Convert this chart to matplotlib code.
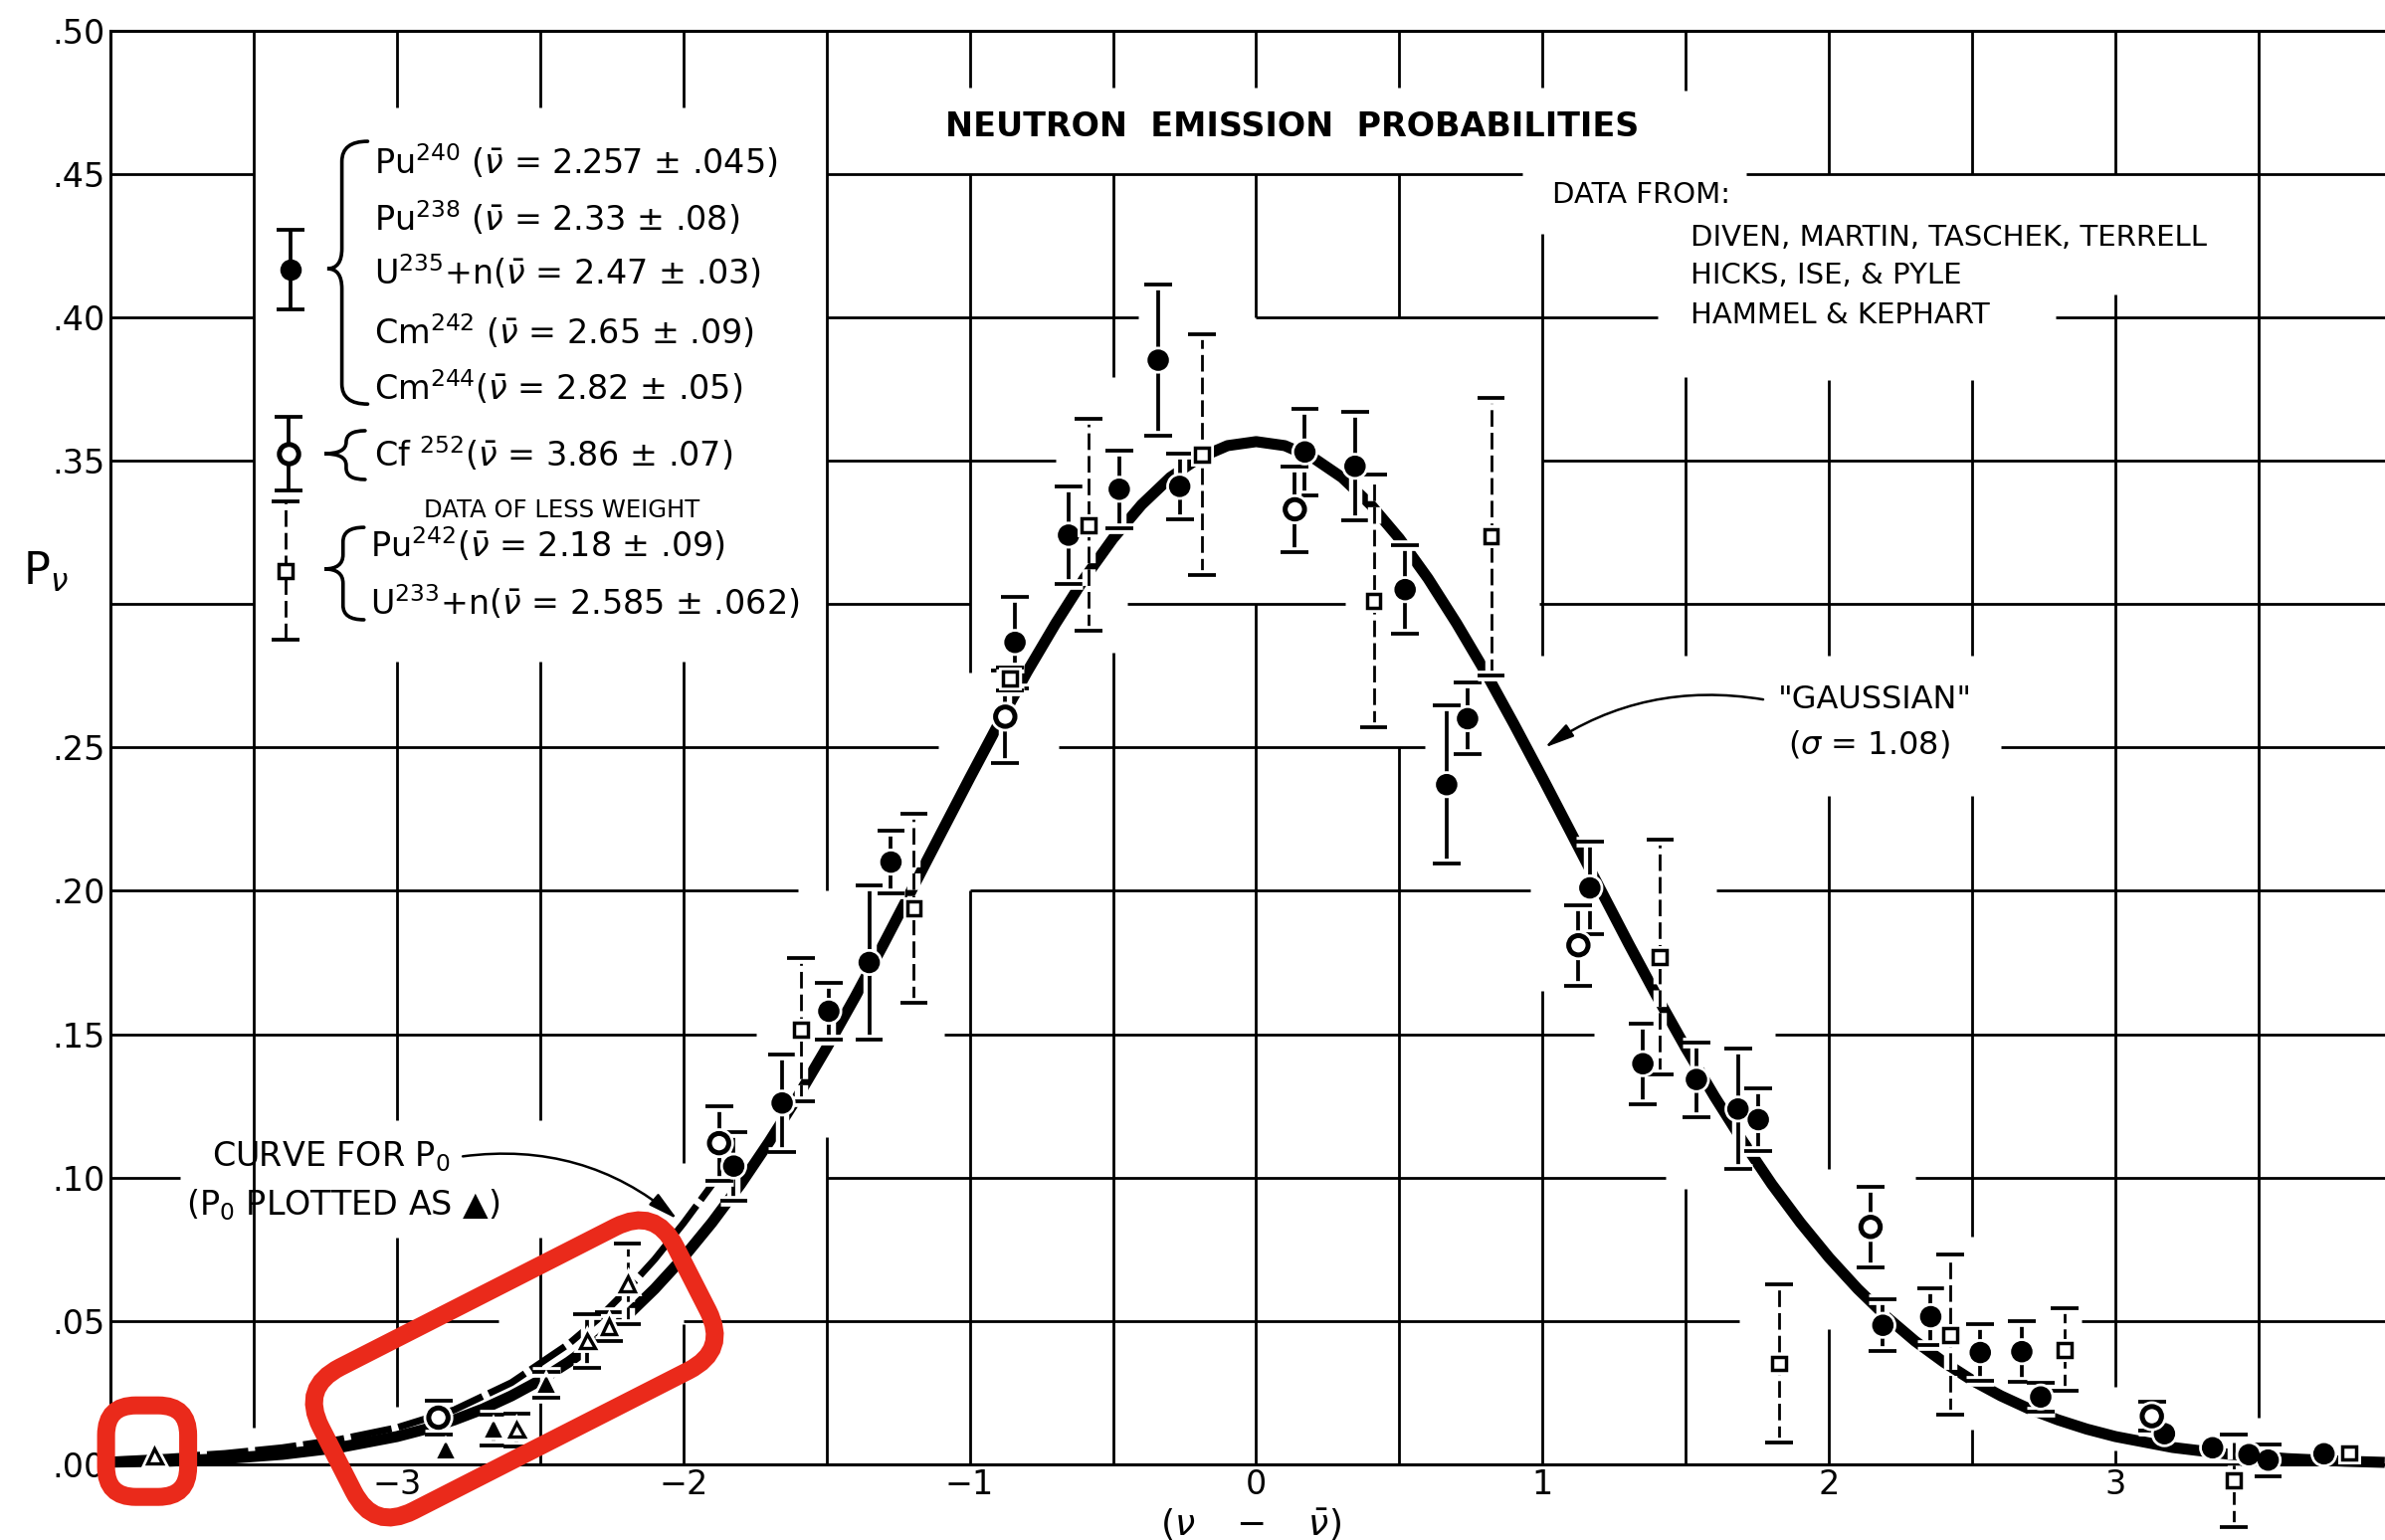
import numpy as np
import matplotlib
matplotlib.use("Agg")
import matplotlib.pyplot as plt
import matplotlib.patheffects as pe
from matplotlib.path import Path
from matplotlib.patches import PathPatch, FancyBboxPatch
from matplotlib.transforms import Affine2D

plt.rcParams['font.family'] = ['DejaVu Sans']
plt.rcParams['mathtext.fontset'] = 'dejavusans'

nan = np.nan

# ---------------- data ----------------
# filled circles: Pu240, Pu238, U235+n, Cm242, Cm244
filled_x = [-1.824, -1.655, -1.492, -1.351, -1.275, -0.842, -0.655, -0.478, -0.342, -0.267,
            0.170, 0.345, 0.520, 0.665, 0.738, 1.165, 1.350, 1.537, 1.682, 1.753,
            2.188, 2.355, 2.528, 2.673, 2.739, 3.171, 3.339, 3.466, 3.533, 3.728]
filled_y = [0.104, 0.126, 0.158, 0.175, 0.210, 0.2866, 0.324, 0.340, 0.385, 0.341,
            0.353, 0.348, 0.305, 0.237, 0.260, 0.201, 0.1397, 0.1342, 0.1239, 0.1202,
            0.0485, 0.0515, 0.039, 0.0393, 0.0235, 0.0107, 0.0058, 0.0034, 0.0015, 0.0037]
filled_err = [0.012, 0.017, 0.010, 0.027, 0.011, 0.016, 0.017, 0.0135, 0.0265, 0.0115,
              0.015, 0.019, 0.0155, 0.0275, 0.0125, 0.016, 0.014, 0.013, 0.021, 0.011,
              0.009, 0.0098, 0.010, 0.0105, 0.005, nan, nan, nan, 0.0055, nan]

# open circles: Cf252
cf_x = [-2.855, -1.875, -0.876, 0.135, 1.125, 2.145, 3.127]
cf_y = [0.0163, 0.112, 0.2607, 0.333, 0.181, 0.0828, 0.0168]
cf_err = [0.006, 0.013, 0.016, 0.015, 0.014, 0.014, 0.005]

# open squares: data of less weight (Pu242, U233+n)
lw_x = [-1.590, -1.195, -0.860, -0.585, -0.190, 0.410, 0.820, 1.410, 1.825, 2.423, 2.822, 3.413, 3.816]
lw_y = [0.1515, 0.1938, 0.274, 0.3275, 0.352, 0.301, 0.3235, 0.177, 0.0352, 0.0452, 0.040, -0.0057, 0.004]
lw_err = [0.025, 0.033, 0.004, 0.037, 0.042, 0.044, 0.0485, 0.041, 0.0276, 0.028, 0.0145, 0.016, nan]

# P0 points (triangles)
p0f_x = [-2.829, -2.662, -2.478]
p0f_y = [0.0048, 0.0121, 0.0278]
p0f_err = [nan, 0.0054, 0.0045]
p0o_x = [-3.846, -2.581, -2.335, -2.260]
p0o_y = [0.0030, 0.0121, 0.0430, 0.0480]
p0o_err = [nan, 0.0057, 0.0094, 0.005]
p0d_x = [-2.195]
p0d_y = [0.063]
p0d_err = [0.014]

# "Gaussian" curve (sigma = 1.08)
gauss_x = [-4.0, -3.8, -3.6, -3.4, -3.2, -3.0, -2.9, -2.8, -2.7, -2.6, -2.5, -2.4, -2.3, -2.2, -2.1,
           -2.0, -1.9, -1.8, -1.7, -1.6, -1.5, -1.4, -1.3, -1.2, -1.1, -1.0, -0.9, -0.8, -0.7,
           -0.6, -0.5, -0.4, -0.3, -0.2, -0.1, 0.0, 0.1, 0.2, 0.3, 0.4, 0.5, 0.6, 0.7, 0.8, 0.9,
           1.0, 1.1, 1.2, 1.3, 1.4, 1.5, 1.6, 1.7, 1.8, 1.9, 2.0, 2.1, 2.2, 2.3, 2.4, 2.5, 2.6,
           2.7, 2.8, 2.9, 3.0, 3.2, 3.4, 3.6, 3.8, 3.94]
gauss_y = [0.0008, 0.0011, 0.0020, 0.0035, 0.0059, 0.0097, 0.0123, 0.0155, 0.0193, 0.0239, 0.0293,
           0.0357, 0.0430, 0.0515, 0.0612, 0.0721, 0.0843, 0.0977, 0.1125, 0.1283, 0.1452, 0.1630,
           0.1816, 0.2008, 0.2201, 0.2393, 0.2581, 0.2763, 0.2932, 0.3089, 0.3228, 0.3346, 0.3441,
           0.3509, 0.3552, 0.3566, 0.3552, 0.3509, 0.3441, 0.3346, 0.3228, 0.3089, 0.2932, 0.2763,
           0.2581, 0.2393, 0.2201, 0.2008, 0.1816, 0.1630, 0.1452, 0.1283, 0.1125, 0.0977, 0.0843,
           0.0721, 0.0612, 0.0515, 0.0430, 0.0357, 0.0293, 0.0239, 0.0193, 0.0155, 0.0123, 0.0097,
           0.0059, 0.0035, 0.0020, 0.0011, 0.0007]

# curve for P0
p0c_x = [-4.0, -3.8, -3.6, -3.4, -3.2, -3.0, -2.8, -2.6, -2.4, -2.3, -2.2, -2.1, -2.0, -1.9, -1.85]
p0c_y = [0.0015, 0.0025, 0.0038, 0.0058, 0.0087, 0.0128, 0.0190, 0.0285, 0.0420, 0.0505, 0.0605,
         0.0715, 0.0840, 0.0975, 0.1045]

x_ticks = [-3, -2, -1, 0, 1, 2, 3]
x_tick_labels = ['\u22123', '\u22122', '\u22121', '0', '1', '2', '3']
y_ticks = [0.0, 0.05, 0.10, 0.15, 0.20, 0.25, 0.30, 0.35, 0.40, 0.45, 0.50]
y_tick_labels = ['.00', '.05', '.10', '.15', '.20', '.25', '', '.35', '.40', '.45', '.50']

# hand-drawn grid with erased gaps (layout)
GRID_V = {
    -3.5: [(0.013, 0.5)],
    -3.0: [(0.02, 0.079), (0.12, 0.28), (0.473, 0.5)],
    -2.5: [(0.0, 0.079), (0.12, 0.28), (0.473, 0.5)],
    -2.0: [(0.0, 0.049), (0.105, 0.28), (0.473, 0.5)],
    -1.5: [(0.0, 0.114), (0.20, 0.5)],
    -1.0: [(0.0, 0.20), (0.276, 0.45), (0.48, 0.5)],
    -0.5: [(0.0, 0.283), (0.379, 0.45), (0.48, 0.5)],
    0.0: [(0.0, 0.30), (0.40, 0.45), (0.48, 0.5)],
    0.5: [(0.0, 0.25), (0.40, 0.45), (0.48, 0.5)],
    1.0: [(0.0, 0.165), (0.282, 0.429), (0.48, 0.5)],
    1.5: [(0.0, 0.096), (0.282, 0.379), (0.479, 0.5)],
    2.0: [(0.0, 0.047), (0.103, 0.233), (0.282, 0.378), (0.45, 0.5)],
    2.5: [(0.0, 0.012), (0.0795, 0.233), (0.282, 0.378), (0.45, 0.5)],
    3.0: [(0.0, 0.005), (0.027, 0.408), (0.45, 0.5)],
    3.5: [(0.0164, 0.5)],
}
GRID_H = {
    0.05: [(-4, -2.646), (-2.0, 1.686), (2.88, 3.95)],
    0.10: [(-4, -3.757), (-1.5, 1.43), (2.30, 3.95)],
    0.15: [(-4, -1.745), (-1.09, 1.18), (1.81, 3.95)],
    0.20: [(-4, -1.60), (-1.0, 0.956), (1.605, 3.95)],
    0.25: [(-4, -1.11), (-0.69, 0.59), (2.60, 3.95)],
    0.30: [(-4, -3.5), (-1.5, -1.0), (-0.45, 0.31), (0.99, 3.95)],
    0.35: [(-4, -3.5), (-1.5, -0.70), (1.0, 3.95)],
    0.40: [(-4, -3.5), (-1.5, -0.41), (0.0, 1.40), (2.79, 3.95)],
    0.45: [(-4, -3.5), (-1.5, 0.93), (1.71, 3.95)],
}

# ---------------- figure ----------------
W, H, DPI = 2397, 1548, 100
fig = plt.figure(figsize=(W / DPI, H / DPI), dpi=DPI)
fig.patch.set_facecolor('white')
ax = fig.add_axes([111 / W, (H - 1472) / H, (W - 111) / W, (1472 - 30.5) / H])
ax.set_xlim(-4, 3.941)
ax.set_ylim(0, 0.5)
for s in ['left', 'top', 'bottom']:
    ax.spines[s].set_linewidth(2.2)
ax.spines['right'].set_visible(False)
ax.set_xticks(x_ticks, x_tick_labels)
ax.set_yticks(y_ticks, y_tick_labels)
ax.tick_params(axis='both', length=0, labelsize=24)
ax.tick_params(axis='x', pad=3)
ax.tick_params(axis='y', pad=4)

GL = 2.0
for xv, segs in GRID_V.items():
    for (a, b) in segs:
        ax.plot([xv, xv], [a, b], color='black', lw=GL, zorder=1, solid_capstyle='butt')
for yv, segs in GRID_H.items():
    for (a, b) in segs:
        ax.plot([a, b], [yv, yv], color='black', lw=GL, zorder=1, solid_capstyle='butt')

# curves
ax.plot(gauss_x, gauss_y, color='black', lw=8, zorder=3, solid_capstyle='butt', clip_on=False)
ax.plot(p0c_x, p0c_y, color='black', lw=5, zorder=3, ls=(0, (6, 1)), clip_on=False)

EL, CS, CT = 2.7, 10, 2.7


def draw_series(x, y, err, marker, ms, mfc, mew, dashed=False, halo=True):
    x = np.asarray(x, float)
    y = np.asarray(y, float)
    err = np.asarray(err, float)
    ok = np.isfinite(err)
    if ok.any():
        eb = ax.errorbar(x[ok], y[ok], yerr=err[ok], fmt='none', ecolor='black',
                         elinewidth=(2.0 if dashed else EL), capsize=CS, capthick=CT)
        for bc in eb.lines[2]:
            if dashed:
                bc.set_linestyle((0, (6, 2.2)))
            if halo:
                bc.set_path_effects([pe.Stroke(linewidth=EL + 7, foreground='white'), pe.Normal()])
            bc.set_clip_on(False)
            bc.set_zorder(5)
        for cap in eb.lines[1]:
            if halo:
                cap.set_path_effects([pe.Stroke(linewidth=CT + 5, foreground='white'), pe.Normal()])
            cap.set_clip_on(False)
            cap.set_zorder(5)
    ln, = ax.plot(x, y, ls='none', marker=marker, ms=ms, mfc=mfc, mec='black', mew=mew,
                  zorder=6, clip_on=False)
    if halo:
        ln.set_path_effects([pe.Stroke(linewidth=mew + 4, foreground='white'), pe.Normal()])


draw_series(filled_x, filled_y, filled_err, 'o', 14, 'black', 1.5)
draw_series(cf_x, cf_y, cf_err, 'o', 14, 'white', 3.6)
draw_series(lw_x, lw_y, lw_err, 's', 10, 'white', 2.5, dashed=True)
draw_series(p0f_x, p0f_y, p0f_err, '^', 10.5, 'black', 1.5)
draw_series(p0o_x, p0o_y, p0o_err, '^', 10.5, 'white', 2.4)
draw_series(p0d_x, p0d_y, p0d_err, '^', 10.5, 'white', 2.4, dashed=True)

# ---------------- legend (drawn by hand like the original) ----------------
draw_series([-3.372], [0.4166], [0.014], 'o', 14, 'black', 1.5, halo=False)
draw_series([-3.379], [0.3524], [0.0128], 'o', 14, 'white', 3.6, halo=False)
draw_series([-3.390], [0.3116], [0.024], 's', 10, 'white', 2.5, dashed=True, halo=False)


def brace(x_end, x_mid, x_tip, y_top, y_bot, y_mid, r):
    verts = [(x_end, y_top), (x_mid, y_top), (x_mid, y_top - r),
             (x_mid, y_mid + r), (x_mid, y_mid), (x_tip, y_mid),
             (x_mid, y_mid), (x_mid, y_mid - r),
             (x_mid, y_bot + r), (x_mid, y_bot), (x_end, y_bot)]
    codes = [Path.MOVETO, Path.CURVE3, Path.CURVE3, Path.LINETO, Path.CURVE3, Path.CURVE3,
             Path.CURVE3, Path.CURVE3, Path.LINETO, Path.CURVE3, Path.CURVE3]
    ax.add_patch(PathPatch(Path(verts, codes), fill=False, lw=2.6, ec='black', zorder=6,
                           capstyle='round'))


brace(-3.102, -3.192, -3.243, 0.4613, 0.3697, 0.4169, 0.007)
brace(-3.111, -3.177, -3.253, 0.3604, 0.3434, 0.3524, 0.004)
brace(-3.115, -3.188, -3.253, 0.3267, 0.2945, 0.3122, 0.005)

LF = 24
leg_lines = [
    (-3.080, 0.4499, r'Pu$^{240}$ ($\bar{\nu}$ = 2.257 $\pm$ .045)'),
    (-3.080, 0.4301, r'Pu$^{238}$ ($\bar{\nu}$ = 2.33 $\pm$ .08)'),
    (-3.080, 0.4115, r'U$^{235}$+n($\bar{\nu}$ = 2.47 $\pm$ .03)'),
    (-3.080, 0.3906, r'Cm$^{242}$ ($\bar{\nu}$ = 2.65 $\pm$ .09)'),
    (-3.080, 0.3712, r'Cm$^{244}$($\bar{\nu}$ = 2.82 $\pm$ .05)'),
    (-3.080, 0.3480, r'Cf $^{252}$($\bar{\nu}$ = 3.86 $\pm$ .07)'),
    (-3.094, 0.3163, r'Pu$^{242}$($\bar{\nu}$ = 2.18 $\pm$ .09)'),
    (-3.094, 0.2962, r'U$^{233}$+n($\bar{\nu}$ = 2.585 $\pm$ .062)'),
]
for lx, ly, s in leg_lines:
    ax.text(lx, ly, s, fontsize=LF, ha='left', va='baseline', zorder=7)
ax.text(-2.424, 0.3326, 'DATA OF LESS WEIGHT', fontsize=17.5, ha='center', va='center', zorder=7)

# ---------------- titles and notes ----------------
ax.text(0.127, 0.4662, 'NEUTRON  EMISSION  PROBABILITIES', fontsize=24, fontweight='bold',
        ha='center', va='center', zorder=7)
ax.text(1.035, 0.4426, 'DATA FROM:', fontsize=21, ha='left', va='center', zorder=7)
for yy, s in [(0.4277, 'DIVEN, MARTIN, TASCHEK, TERRELL'),
              (0.4146, 'HICKS, ISE, & PYLE'),
              (0.4006, 'HAMMEL & KEPHART')]:
    ax.text(1.517, yy, s, fontsize=21, ha='left', va='center', zorder=7)

ax.text(2.16, 0.2665, '"GAUSSIAN"', fontsize=23, ha='center', va='center', zorder=7)
ax.text(2.139, 0.2511, r'($\sigma$ = 1.08)', fontsize=23, ha='center', va='center', zorder=7)
ax.annotate('', xy=(1.007, 0.2499), xytext=(1.77, 0.2667),
            arrowprops=dict(arrowstyle='-|>,head_length=0.9,head_width=0.22', color='black',
                            lw=1.8, connectionstyle='arc3,rad=0.2', shrinkA=0, shrinkB=0,
                            mutation_scale=20), zorder=7)

ax.text(-3.229, 0.1074, r'CURVE FOR P$_0$', fontsize=24, ha='center', va='center', zorder=7)
ax.text(-3.187, 0.0904, '(P$_0$ PLOTTED AS \u25B2)', fontsize=24, ha='center', va='center', zorder=7)
ax.annotate('', xy=(-2.021, 0.0855), xytext=(-2.77, 0.1074),
            arrowprops=dict(arrowstyle='-|>,head_length=0.9,head_width=0.22', color='black',
                            lw=1.8, connectionstyle='arc3,rad=-0.22', shrinkA=0, shrinkB=0,
                            mutation_scale=20), zorder=7)

ax.text(-0.02, -0.021, r'$(\nu\ \ \ -\ \ \ \bar{\nu})$', fontsize=26, ha='center', va='center',
        clip_on=False)
fig.text(46 / W, 1 - 575 / H, r'P$_{\nu}$', fontsize=32, ha='center', va='center')

# ---------------- red highlight boxes ----------------
pix = Affine2D().scale(1 / W, -1 / H).translate(0, 1) + fig.transFigure
RED = '#EA2A1B'
b1 = FancyBboxPatch((106.6, 1412.7), 82.5, 92, boxstyle='round,pad=0,rounding_size=30',
                    transform=pix, fill=False, ec=RED, lw=13, zorder=20, clip_on=False)
fig.patches.append(b1)
cx, cy, L, S = 517, 1376, 400, 162
b2 = FancyBboxPatch((cx - L / 2, cy - S / 2), L, S, boxstyle='round,pad=0,rounding_size=45',
                    transform=Affine2D().rotate_deg_around(cx, cy, -27) + pix,
                    fill=False, ec=RED, lw=13, zorder=20, clip_on=False)
fig.patches.append(b2)

fig.savefig('out.png', dpi=DPI, facecolor='white')
